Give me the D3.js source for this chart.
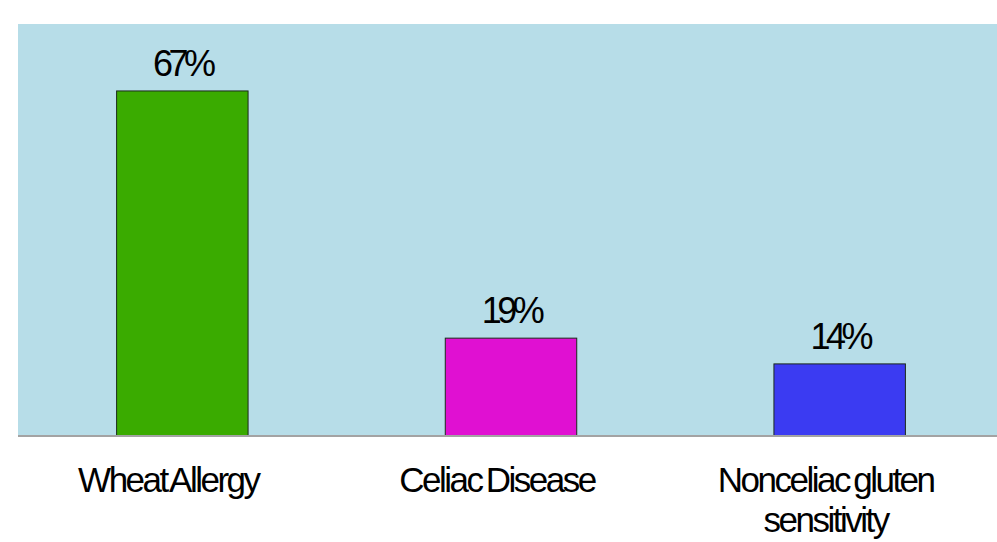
<!DOCTYPE html>
<html>
<head>
<meta charset="utf-8">
<script src="https://cdn.jsdelivr.net/npm/d3@7"></script>
<style>
  body { margin: 0; background: #fff; }
  text { font-family: Arial, "Liberation Sans", sans-serif; fill: #000; }
</style>
</head>
<body>
<div id="wrap"></div>
<script>
var categories = ["Wheat Allergy", "Celiac Disease", "Nonceliac gluten|sensitivity"],
    values = [67, 19, 14],
    colors = ["#3aab00", "#e010d2", "#3b3bf2"];

var width = 997, height = 542;
var plot = { left: 18, right: 1004, top: 24, bottom: 436 };

var svg = d3.select('#wrap').append('svg')
      .attr('width', width)
      .attr('height', height);

var x = d3.scaleBand()
      .domain(d3.range(categories.length))
      .range([plot.left, plot.right])
      .paddingInner(0.6)
      .paddingOuter(0.3);

var y = d3.scaleLinear()
      .domain([0, 80])
      .range([plot.bottom, plot.top]);

//plot background
svg.append('rect')
  .attr('x', plot.left)
  .attr('y', plot.top)
  .attr('width', plot.right - plot.left)
  .attr('height', plot.bottom - plot.top)
  .style('fill', '#b7dde8');

//bars
svg.selectAll('.bar')
  .data(values)
  .enter().append('rect')
    .attr('class', 'bar')
    .attr('x', function(d, i) { return x(i); })
    .attr('y', function(d) { return y(d); })
    .attr('width', x.bandwidth())
    .attr('height', function(d) { return y(0) - y(d); })
    .style('fill', function(d, i) { return colors[i]; })
    .style('stroke', '#1c2a1c')
    .style('stroke-width', 1);

//baseline
svg.append('line')
  .attr('x1', plot.left).attr('x2', plot.right)
  .attr('y1', y(0)).attr('y2', y(0))
  .style('stroke', '#a3a3a3')
  .style('stroke-width', 2);

//value labels
svg.selectAll('.val')
  .data(values)
  .enter().append('text')
    .attr('class', 'val')
    .attr('x', function(d, i) { return x(i) + x.bandwidth() / 2; })
    .attr('y', function(d) { return y(d) - 15; })
    .attr('text-anchor', 'middle')
    .style('font-size', '36px')
    .style('letter-spacing', '-4.5px')
    .text(function(d) { return d + '%'; });

//category labels
var cat = svg.selectAll('.cat')
  .data(categories)
  .enter().append('text')
    .attr('class', 'cat')
    .attr('text-anchor', 'middle')
    .style('font-size', '35px')
    .style('letter-spacing', '-2.5px')
    .style('word-spacing', '-3px')
    .attr('transform', function(d, i) {
      return 'translate(' + (x(i) + x.bandwidth() / 2 - 14) + ',' + 492 + ')';
    });

cat.selectAll('tspan')
  .data(function(d) { return d.split('|'); })
  .enter().append('tspan')
    .attr('x', 0)
    .attr('dy', function(d, i) { return i ? 40 : 0; })
    .text(function(d) { return d; });
</script>
</body>
</html>
